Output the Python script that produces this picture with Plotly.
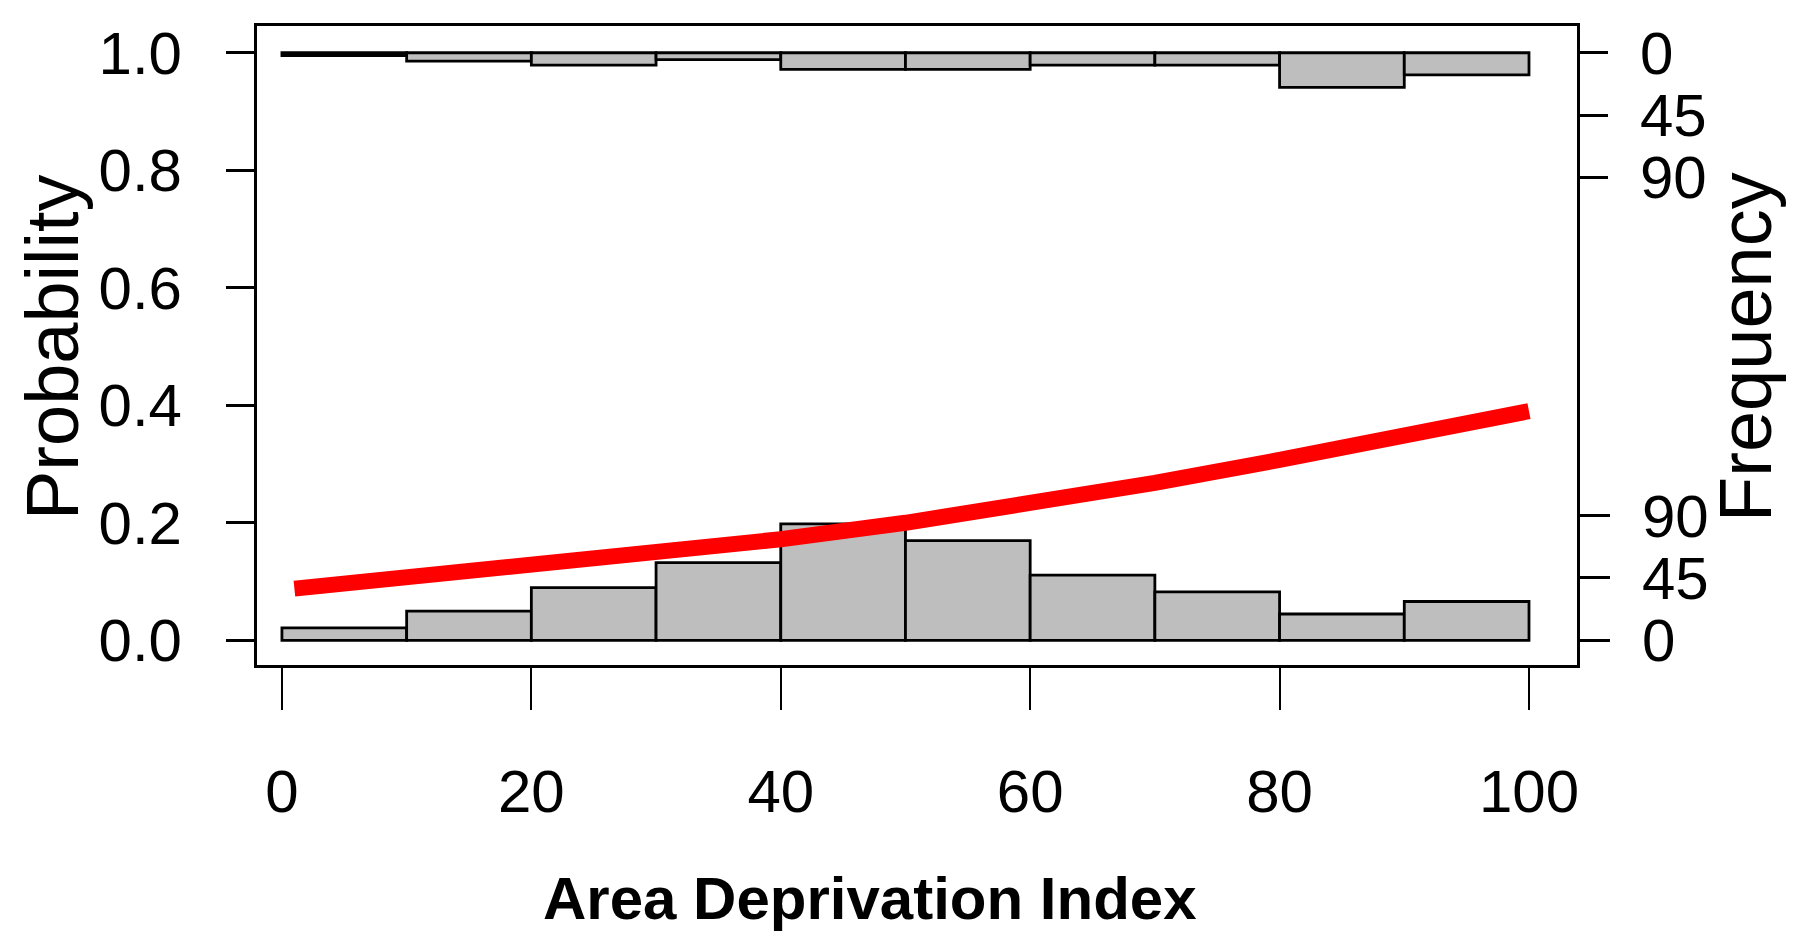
import plotly.graph_objects as go

# histogram bins (Area Deprivation Index)
bin_centers = [5, 15, 25, 35, 45, 55, 65, 75, 85, 95]
# counts of outcome = 0 (bottom) and outcome = 1 (top, hanging from 1.0)
counts_0 = [9, 21, 38, 56, 84, 72, 47, 35, 19, 28]
counts_1 = [2, 6, 9, 5, 12, 12, 9, 9, 25, 16]

# fitted probability curve
adi_x = [1, 10, 20, 30, 40, 50, 60, 70, 80, 90, 100]
prob_y = [0.088, 0.107, 0.127, 0.150, 0.172, 0.200, 0.232, 0.268, 0.307, 0.348, 0.390]

x_ticks = [0, 20, 40, 60, 80, 100]
prob_ticks = [0.0, 0.2, 0.4, 0.6, 0.8, 1.0]
freq_ticks = [0, 45, 90]

FONT = "Liberation Sans, Arial, sans-serif"

prob_range = [-0.042, 1.0455]
per_prob = 424  # counts per 1.0 of probability

fig = go.Figure()

# bottom histogram on the base axis, curve on an overlay so it sits on top
fig.add_trace(go.Bar(
    x=bin_centers, y=counts_0, width=10, yaxis="y",
    marker=dict(color="#bebebe", line=dict(color="black", width=2.8)),
    showlegend=False,
))
fig.add_trace(go.Scatter(
    x=adi_x, y=prob_y, mode="lines", yaxis="y2",
    line=dict(color="#ff0000", width=16),
    showlegend=False,
))
fig.add_trace(go.Bar(
    x=bin_centers, y=counts_1, width=10, yaxis="y3",
    marker=dict(color="#bebebe", line=dict(color="black", width=2.8)),
    showlegend=False,
))

tickfont = dict(family=FONT, size=60, color="black")

# page body adds an 8px offset, so the figure is 8px smaller than the window
fig.update_layout(
    width=1792, height=943,
    margin=dict(l=249, r=223, t=12, b=286),
    paper_bgcolor="white", plot_bgcolor="white",
    barmode="overlay",
    xaxis=dict(
        range=[-2.0, 103.85], tickvals=x_ticks, ticks="outside", ticklen=42,
        tickwidth=2, tickcolor="black", ticklabelstandoff=30,
        showline=True, linecolor="black", linewidth=2.8, mirror=True,
        showgrid=False, zeroline=False, tickfont=tickfont,
    ),
    # bottom counts, right side
    yaxis=dict(
        side="right",
        range=[prob_range[0] * per_prob, prob_range[1] * per_prob],
        tickvals=freq_ticks, ticks="outside", ticklen=30, tickwidth=2.5,
        tickcolor="black", ticklabelstandoff=20,
        showline=True, linecolor="black", linewidth=2.8, mirror=True,
        showgrid=False, zeroline=False, tickfont=tickfont,
    ),
    # probability, left side
    yaxis2=dict(
        overlaying="y", side="left", anchor="x",
        range=prob_range, tickvals=prob_ticks, tickformat=".1f",
        ticks="outside", ticklen=30, tickwidth=2.5, tickcolor="black",
        ticklabelstandoff=32,
        showline=False, showgrid=False, zeroline=False, tickfont=tickfont,
    ),
    # top counts (reversed), right side
    yaxis3=dict(
        overlaying="y", side="right", anchor="x",
        range=[(1 - prob_range[0]) * per_prob, (1 - prob_range[1]) * per_prob],
        tickvals=freq_ticks, ticks="outside", ticklen=30, tickwidth=2.5,
        tickcolor="black", ticklabelstandoff=20,
        showline=False, showgrid=False, zeroline=False, tickfont=tickfont,
    ),
    annotations=[
        dict(text="Probability", xref="paper", yref="paper", x=-0.1545, y=0.4977,
             xanchor="center", yanchor="middle", textangle=-90, showarrow=False,
             font=dict(family=FONT, size=74, color="black")),
        dict(text="Frequency", xref="paper", yref="paper", x=1.128, y=0.4977,
             xanchor="center", yanchor="middle", textangle=-90, showarrow=False,
             font=dict(family=FONT, size=74, color="black")),
        dict(text="<b>Area Deprivation Index</b>", xref="paper", yref="paper",
             x=0.4644, y=-0.366, xanchor="center", yanchor="middle", showarrow=False,
             font=dict(family=FONT, size=60, color="black")),
    ],
)

fig.write_html("out.html")
